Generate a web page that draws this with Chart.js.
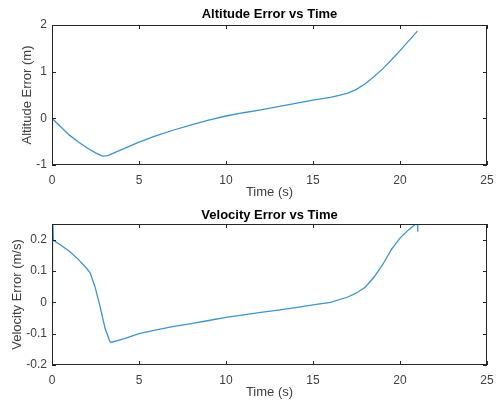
<!DOCTYPE html>
<html>
<head>
<meta charset="utf-8">
<script src="https://cdn.jsdelivr.net/npm/chart.js@4/dist/chart.umd.min.js"></script>
<style>
  body { margin: 0; background: #fff; }
  .plot { position: absolute; left: 0; width: 496px; height: 200px; }
</style>
</head>
<body>
<div class="plot" style="top:0"><canvas id="altChart" width="496" height="200"></canvas></div>
<div class="plot" style="top:200px"><canvas id="velChart" width="496" height="200"></canvas></div>
<script>
// values
const altTime  = [0, 0.5, 1, 1.5, 2, 2.5, 2.9, 3.2, 3.5, 4, 4.5, 5, 6, 7, 8, 9, 10, 11, 12, 13, 14, 15, 16, 16.5, 17, 17.5, 18, 18.5, 19, 19.5, 20, 20.5, 21];
const altValue = [0, -0.18, -0.36, -0.5, -0.63, -0.74, -0.81, -0.8, -0.75, -0.67, -0.59, -0.51, -0.37, -0.25, -0.14, -0.04, 0.05, 0.12, 0.18, 0.25, 0.32, 0.39, 0.45, 0.49, 0.54, 0.62, 0.74, 0.89, 1.06, 1.25, 1.45, 1.66, 1.87];

const velTime  = [0, 0.03, 0.08, 0.5, 1, 1.5, 2, 2.2, 2.47, 2.76, 3.05, 3.33, 3.4, 4.2, 5, 6, 7, 8, 9, 10, 11, 12, 13, 14, 15, 16, 17, 17.5, 18, 18.5, 19, 19.5, 20, 20.5, 20.95, 21, 21.02];
const velValue = [-0.01, 0.3, 0.198, 0.183, 0.163, 0.138, 0.108, 0.093, 0.05, -0.013, -0.083, -0.125, -0.128, -0.115, -0.1, -0.088, -0.077, -0.068, -0.058, -0.048, -0.04, -0.032, -0.025, -0.017, -0.008, 0.0, 0.017, 0.03, 0.048, 0.08, 0.12, 0.168, 0.205, 0.232, 0.252, 0.265, 0.225];

const timeTicks = [0, 5, 10, 15, 20, 25];
const altTicks  = [-1, 0, 1, 2];
const velTicks  = [-0.2, -0.1, 0, 0.1, 0.2];

const FONT = "'Liberation Sans', Arial, Helvetica, sans-serif";
const lineColor = '#3f93cc';
const axisColor = '#262626';
const labelColor = '#404040';

// MATLAB style box with ticks pointing inward on all four sides
const boxPlugin = {
    id: 'matlabBox',
    afterDatasetsDraw(chart) {
        const { ctx, chartArea: a, scales } = chart;
        ctx.save();
        ctx.strokeStyle = axisColor;
        ctx.lineWidth = 1;
        ctx.strokeRect(Math.round(a.left) + 0.5, Math.round(a.top) + 0.5,
                       Math.round(a.right - a.left) - 1, Math.round(a.bottom - a.top) - 1);
        const len = 4;
        ctx.beginPath();
        scales.x.ticks.forEach(t => {
            const px = Math.round(scales.x.getPixelForValue(t.value)) + 0.5;
            ctx.moveTo(px, a.bottom); ctx.lineTo(px, a.bottom - len);
            ctx.moveTo(px, a.top); ctx.lineTo(px, a.top + len);
        });
        scales.y.ticks.forEach(t => {
            const py = Math.round(scales.y.getPixelForValue(t.value)) + 0.5;
            ctx.moveTo(a.left, py); ctx.lineTo(a.left + len, py);
            ctx.moveTo(a.right, py); ctx.lineTo(a.right - len, py);
        });
        ctx.stroke();
        ctx.restore();
    }
};

function makeChart(id, title, yLabel, xs, ys, yMin, yMax, yTicks, yTitlePad, titlePad) {
    const points = xs.map((x, i) => ({ x: x, y: ys[i] }));
    return new Chart(document.getElementById(id), {
        type: 'line',
        data: {
            datasets: [{
                data: points,
                borderColor: lineColor,
                borderWidth: 1.3,
                pointRadius: 0,
                tension: 0,
                fill: false
            }]
        },
        options: {
            responsive: false,
            animation: false,
            layout: { padding: { left: 0, right: 9, top: 0, bottom: 0 } },
            plugins: {
                legend: { display: false },
                tooltip: { enabled: false },
                title: {
                    display: true,
                    text: title,
                    fullSize: false,
                    color: '#000',
                    font: { family: FONT, size: 13, weight: 'bold' },
                    padding: titlePad
                }
            },
            scales: {
                x: {
                    type: 'linear',
                    min: 0,
                    max: 25,
                    afterBuildTicks: s => { s.ticks = timeTicks.map(v => ({ value: v })); },
                    afterFit: s => { s.height = 35; s.paddingLeft = 0; s.paddingRight = 0; },
                    grid: { display: false, drawTicks: false },
                    border: { display: false },
                    ticks: { color: labelColor, padding: 8, maxRotation: 0,
                             font: { family: FONT, size: 12 } },
                    title: { display: true, text: 'Time (s)', color: labelColor,
                             padding: { top: 0, bottom: 0 },
                             font: { family: FONT, size: 13 } }
                },
                y: {
                    type: 'linear',
                    min: yMin,
                    max: yMax,
                    afterBuildTicks: s => { s.ticks = yTicks.map(v => ({ value: v })); },
                    afterFit: s => { s.width = 52; },
                    grid: { display: false, drawTicks: false },
                    border: { display: false },
                    ticks: { color: labelColor, padding: 5,
                             font: { family: FONT, size: 12 },
                             callback: v => String(Math.round(v * 10) / 10) },
                    title: { display: true, text: yLabel, color: labelColor,
                             padding: { top: yTitlePad, bottom: 0 },
                             font: { family: FONT, size: 13 } }
                }
            }
        },
        plugins: [boxPlugin]
    });
}

makeChart('altChart', 'Altitude Error vs Time', 'Altitude Error (m)',
          altTime, altValue, -1, 2, altTicks, 20, { top: 6.7, bottom: 2.7 });
makeChart('velChart', 'Velocity Error vs Time', 'Velocity Error (m/s)',
          velTime, velValue, -0.2, 0.25, velTicks, 10, { top: 7.2, bottom: 1.2 });
</script>
</body>
</html>
